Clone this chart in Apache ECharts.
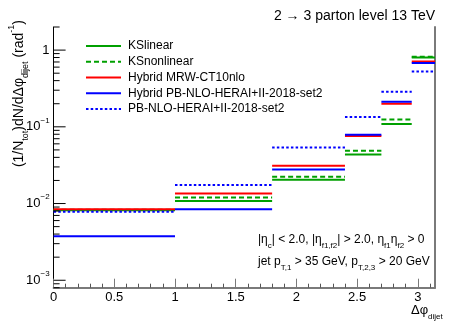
<!DOCTYPE html>
<html>
<head>
<meta charset="utf-8">
<script src="https://cdn.jsdelivr.net/npm/echarts@6/dist/echarts.min.js"></script>
<style>
  html, body { margin: 0; padding: 0; background: #fff; }
  #chart { width: 453px; height: 327px; }
</style>
</head>
<body>
<div id="chart"></div>
<script>
// bin edges in delta phi (last edge = pi)
const edges = [0, 1, 1.8, 2.4, 2.7, 2.95, Math.PI]
const ksLinear = [0.0082, 0.0108, 0.0204, 0.0437, 0.109, 0.80]
const ksNonlinear = [0.0083, 0.0120, 0.0223, 0.0486, 0.125, 0.82]
const hybridMRW = [0.00845, 0.0135, 0.0310, 0.0757, 0.1995, 0.71]
const hybridPB = [0.00376, 0.00845, 0.0278, 0.0787, 0.212, 0.68]
const pbNLO = [0.0078, 0.0175, 0.0538, 0.134, 0.286, 0.525]
const names = ['KSlinear', 'KSnonlinear', 'Hybrid MRW-CT10nlo', 'Hybrid PB-NLO-HERAI+II-2018-set2', 'PB-NLO-HERAI+II-2018-set2']
const xTicks = [0, 0.5, 1, 1.5, 2, 2.5, 3]
const yMin = 0.0008
const yMax = 2

const FONT = 'Liberation Sans, Arial, Helvetica, sans-serif'

// each bin is a flat segment, broken between bins
function binLine (vals) {
  const out = []
  vals.forEach((v, i) => {
    out.push([edges[i], v], [edges[i + 1], v], [edges[i + 1], '-'])
  })
  return out
}

// y axis ticks 1..9 x 10^k inside the range
const yTickVals = []
for (let e = -4; e <= 0; e++) {
  for (let m = 1; m <= 9; m++) {
    const v = m * Math.pow(10, e)
    if (v >= yMin && v <= yMax) yTickVals.push([0, v])
  }
}

function isDecade (v) {
  const l = Math.log10(v)
  return Math.abs(l - Math.round(l)) < 1e-6
}

// rich text styles with sub/superscripts, main text centred in the line
function rich (F) {
  const s = Math.round(F * 0.64)
  const L = F + s
  const base = { fontFamily: FONT, color: '#000', lineHeight: L }
  return {
    n: Object.assign({ fontSize: F, verticalAlign: 'middle' }, base),
    sub: Object.assign({ fontSize: s, verticalAlign: 'bottom' }, base),
    sup: Object.assign({ fontSize: s, verticalAlign: 'top' }, base)
  }
}

const styles = [
  { color: '#00a000', type: 'solid' },
  { color: '#00a000', type: [5, 3] },
  { color: '#ff0000', type: 'solid' },
  { color: '#0000ff', type: 'solid' },
  { color: '#0000ff', type: [2.5, 2.2] }
]
const allData = [ksLinear, ksNonlinear, hybridMRW, hybridPB, pbNLO]

const series = allData.map((vals, i) => ({
  name: names[i],
  type: 'line',
  data: binLine(vals),
  symbol: 'none',
  showSymbol: false,
  connectNulls: false,
  animation: false,
  lineStyle: { color: styles[i].color, type: styles[i].type, width: 2 },
  itemStyle: { color: styles[i].color },
  z: 3 + i
}))

series.push({
  type: 'custom',
  name: 'yticks',
  data: yTickVals,
  silent: true,
  clip: false,
  z: 20,
  animation: false,
  renderItem (params, api) {
    const v = api.value(1)
    const p = api.coord([0, v])
    const len = isDecade(v) ? 12 : 6
    return {
      type: 'line',
      shape: { x1: p[0], y1: p[1], x2: p[0] + len, y2: p[1] },
      style: { stroke: '#000', lineWidth: 1 }
    }
  }
})

const chart = echarts.init(document.getElementById('chart'))
chart.setOption({
  backgroundColor: '#fff',
  animation: false,
  title: {
    text: '2 \u2192 3 parton level 13 TeV',
    right: 13,
    top: 4,
    textStyle: { fontSize: 14, fontWeight: 'normal', fontFamily: FONT, color: '#000' }
  },
  legend: {
    data: names,
    orient: 'vertical',
    left: 85,
    top: 40,
    padding: 0,
    itemWidth: 35,
    itemHeight: 14,
    itemGap: 3.75,
    itemStyle: { opacity: 0 },
    textStyle: { fontSize: 12, fontFamily: FONT, color: '#000', padding: [0, 0, 0, 2] }
  },
  grid: { left: 53.6, right: 18, top: 27, bottom: 39.3 },
  xAxis: {
    type: 'value',
    min: 0,
    max: Math.PI,
    interval: 0.5,
    axisLine: { lineStyle: { color: '#7a7a7a', width: 2 } },
    axisTick: { inside: true, length: 9, lineStyle: { color: '#7a7a7a' } },
    minorTick: { show: true, splitNumber: 5, length: 4, lineStyle: { color: '#555' } },
    splitLine: { show: false },
    axisLabel: {
      margin: 3,
      fontSize: 13,
      fontFamily: FONT,
      color: '#000',
      showMaxLabel: false,
      formatter: v => (xTicks.indexOf(v) >= 0 ? String(v) : '')
    }
  },
  yAxis: [{
    type: 'log',
    logBase: 10,
    min: yMin,
    max: yMax,
    axisLine: { show: true, lineStyle: { color: '#000', width: 1 } },
    axisTick: { show: false },
    splitLine: { show: false },
    axisLabel: {
      margin: 4,
      fontFamily: FONT,
      rich: rich(13),
      formatter: v => {
        if (!isDecade(v)) return ''
        const e = Math.round(Math.log10(v))
        if (e === 0) return '{n|1}'
        return '{n|10}{sup|\u2212' + (-e) + '}'
      }
    }
  }, {
    type: 'log',
    logBase: 10,
    min: yMin,
    max: yMax,
    position: 'right',
    axisLine: { show: true, lineStyle: { color: '#7a7a7a', width: 2 } },
    axisTick: { show: false },
    axisLabel: { show: false },
    splitLine: { show: false }
  }],
  graphic: [
    {
      type: 'text',
      x: 19,
      y: 20,
      rotation: Math.PI / 2,
      style: {
        text: '{n|(1/N}{sub|tot}{n|)dN/d\u0394\u03c6}{sub|dijet}{n| (rad}{sup|-1}{n|)}',
        rich: rich(14),
        align: 'right',
        verticalAlign: 'middle'
      }
    },
    {
      type: 'text',
      x: 411,
      y: 310,
      style: {
        text: '{n|\u0394\u03c6}{sub|dijet}',
        rich: rich(13),
        align: 'left',
        verticalAlign: 'middle'
      }
    },
    {
      type: 'text',
      x: 258,
      y: 240,
      style: {
        text: '{n||\u03b7}{sub|c}{n|| < 2.0, |\u03b7}{sub|f1,f2}{n|| > 2.0, \u03b7}{sub|f1}{n|\u03b7}{sub|f2}{n| > 0}',
        rich: rich(12),
        align: 'left',
        verticalAlign: 'middle'
      }
    },
    {
      type: 'text',
      x: 258,
      y: 261.5,
      style: {
        text: '{n|jet p}{sub|T,1}{n| > 35 GeV, p}{sub|T,2,3}{n| > 20 GeV}',
        rich: rich(12),
        align: 'left',
        verticalAlign: 'middle'
      }
    }
  ],
  series: series
})
</script>
</body>
</html>
